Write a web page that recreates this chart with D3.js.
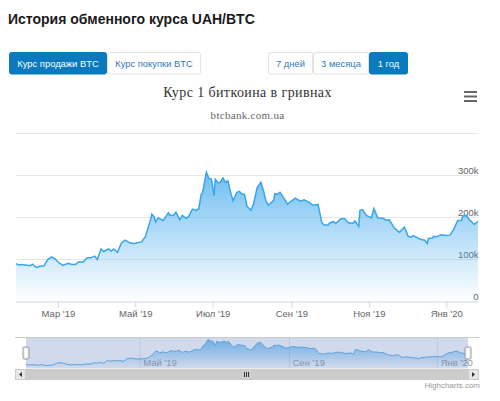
<!DOCTYPE html>
<html>
<head>
<meta charset="utf-8">
<script src="https://cdn.jsdelivr.net/npm/d3@7"></script>
<style>
  html, body { margin: 0; padding: 0; background: #fff; overflow: hidden; }
  svg { display: block; }
  text { font-family: "Liberation Sans", Arial, sans-serif; }
</style>
</head>
<body>
<svg width="500" height="401"></svg>
<script>
// days since 27 Jan 2019
var days = [0,2,4,7,11,13,16,19,22,25,28,31,33,37,41,44,47,49,53,56,59,62,64,67,69,73,75,77,80,83,86,90,93,99,102,106,107,109,110,112,116,120,
  121,124,126,129,131,134,136,139,142,144,146,147,150,152,154,156,157,159,161,163,165,167,169,171,174,176,178,180,182,185,187,190,193,195,197,199,203,204,206,208,210,214,220,224,227,231,234,238,241,243,246,247,
  250,252,256,259,262,266,267,270,271,273,276,280,282,285,289,292,294,298,302,306,309,311,313,318,322,324,325,328,329,331,335,339,342,345,348,351,352,355,357,361,364];
// UAH per BTC, thousands
var rates = [90,87,88,87,85,89,81,84,85,100,106,101,94,86,91,88,88,94,94,104,104,108,100,125,119,125,120,125,117,139,146,139,138,142,155,195,208,201,189,199,193,211,
  206,205,213,195,205,198,203,220,217,221,256,259,308,293,292,252,291,283,284,294,284,287,261,240,260,262,256,255,227,217,231,271,284,263,239,229,241,257,255,260,251,232,246,239,242,236,229,231,187,182,182,187,
  190,186,197,197,187,187,192,179,217,219,205,199,221,199,198,193,195,175,165,177,155,153,157,149,146,138,150,151,155,154,159,157,158,173,193,193,203,205,195,184,191];

var startDate = new Date(2019, 0, 27),
    endDate = new Date(2020, 0, 26);

var xTickDates = [new Date(2019, 2, 1), new Date(2019, 4, 1), new Date(2019, 6, 1), new Date(2019, 8, 1), new Date(2019, 10, 1), new Date(2020, 0, 1)];
var xTickLabels = ["Мар '19", "Май '19", "Июл '19", "Сен '19", "Ноя '19", "Янв '20"];
var navTickDates = [new Date(2019, 4, 1), new Date(2019, 8, 1), new Date(2020, 0, 1)];
var navTickLabels = ["Май '19", "Сен '19", "Янв '20"];
var yTicks = [0, 100, 200, 300, 400];
var yTickLabels = ["0", "100k", "200k", "300k", ""];

var modeButtons = ["Курс продажи BTC", "Курс покупки BTC"];
var rangeButtons = ["7 дней", "3 месяца", "1 год"];

var data = days.map(function(d, i) {
    return { date: d3.timeDay.offset(startDate, d), rate: rates[i] };
});

var svg = d3.select("svg");
var lineColor = "#38a5ec";

var defs = svg.append("defs");
var grad = defs.append("linearGradient")
    .attr("id", "areaFill")
    .attr("x1", 0).attr("y1", 0).attr("x2", 0).attr("y2", 1);
grad.append("stop").attr("offset", "0%").attr("stop-color", "#38a5ec").attr("stop-opacity", 0.72);
grad.append("stop").attr("offset", "100%").attr("stop-color", "#38a5ec").attr("stop-opacity", 0);

// Page heading
svg.append("text")
    .attr("x", 8).attr("y", 24)
    .attr("font-size", 14).attr("font-weight", "bold").attr("fill", "#1a1a1a")
    .text("История обменного курса UAH/BTC");

// Button groups
function buttonGroup(labels, edges, active) {
    var g = svg.append("g");
    labels.forEach(function(label, i) {
        g.append("rect")
            .attr("x", edges[i] + 0.5).attr("y", 52.5)
            .attr("width", edges[i + 1] - edges[i] - 1).attr("height", 21.5)
            .attr("rx", 2)
            .attr("fill", i === active ? "#0a79bd" : "#fff")
            .attr("stroke", i === active ? "#0a79bd" : "#e3e3e3");
        g.append("text")
            .attr("x", (edges[i] + edges[i + 1]) / 2).attr("y", 66.5)
            .attr("text-anchor", "middle").attr("font-size", 9.4)
            .attr("fill", i === active ? "#fff" : "#337ab7")
            .text(label);
    });
}
buttonGroup(modeButtons, [9, 107, 201], 0);
buttonGroup(rangeButtons, [268, 313, 369, 408], 2);

// Chart titles
svg.append("text")
    .attr("x", 247.5).attr("y", 97)
    .attr("text-anchor", "middle").attr("font-size", 14)
    .attr("letter-spacing", 0.4).attr("fill", "#333")
    .style("font-family", "'Liberation Serif', serif")
    .text("Курс 1 биткоина в гривнах");
svg.append("text")
    .attr("x", 247.5).attr("y", 119)
    .attr("text-anchor", "middle").attr("font-size", 11)
    .attr("letter-spacing", 0.3).attr("fill", "#666")
    .style("font-family", "'Liberation Serif', serif")
    .text("btcbank.com.ua");

// Context menu icon
[92, 96.5, 101].forEach(function(y) {
    svg.append("line")
        .attr("x1", 464).attr("x2", 477).attr("y1", y).attr("y2", y)
        .attr("stroke", "#666").attr("stroke-width", 2);
});

// Main plot
var xScale = d3.scaleTime().domain([startDate, endDate]).range([16, 478]);
var yScale = d3.scaleLinear().domain([0, 400]).range([301.5, 133.5]);

yTicks.forEach(function(t, i) {
    if (t > 0) {
        svg.append("line")
            .attr("x1", 16).attr("x2", 478)
            .attr("y1", yScale(t)).attr("y2", yScale(t))
            .attr("stroke", "#e6e6e6");
    }
    svg.append("text")
        .attr("x", 478.5).attr("y", yScale(t) - 1.5)
        .attr("text-anchor", "end").attr("font-size", 9.5).attr("fill", "#666")
        .text(yTickLabels[i]);
});

var area = d3.area()
    .x(function(d) { return xScale(d.date); })
    .y0(yScale(0))
    .y1(function(d) { return yScale(d.rate); });
var line = d3.line()
    .x(function(d) { return xScale(d.date); })
    .y(function(d) { return yScale(d.rate); });

svg.append("path").datum(data).attr("d", area).attr("fill", "url(#areaFill)");
svg.append("path").datum(data).attr("d", line)
    .attr("fill", "none").attr("stroke", lineColor).attr("stroke-width", 1.5);

// X axis
var xAxis = svg.append("g")
    .attr("transform", "translate(0,301.5)")
    .call(d3.axisBottom(xScale)
        .tickValues(xTickDates)
        .tickSize(6)
        .tickPadding(3)
        .tickFormat(function(d, i) { return xTickLabels[i]; }));
xAxis.select(".domain").attr("stroke", "#ccd6eb").attr("d", "M16,0.5H478");
xAxis.selectAll(".tick line").attr("stroke", "#ccd6eb");
xAxis.selectAll(".tick text")
    .attr("font-size", 9.5).attr("fill", "#666")
    .style("font-family", "'Liberation Sans', Arial, sans-serif");

// Navigator
var navX = d3.scaleTime().domain([startDate, endDate]).range([26, 468]);
var navY = d3.scaleLinear().domain([60, 320]).range([368, 338]);

var navArea = d3.area()
    .x(function(d) { return navX(d.date); })
    .y0(368)
    .y1(function(d) { return navY(d.rate); });
var navLine = d3.line()
    .x(function(d) { return navX(d.date); })
    .y(function(d) { return navY(d.rate); });

navTickDates.forEach(function(d, i) {
    svg.append("line")
        .attr("x1", navX(d)).attr("x2", navX(d)).attr("y1", 338).attr("y2", 368)
        .attr("stroke", "#e6e6e6");
    svg.append("text")
        .attr("x", navX(d) + 3).attr("y", 366)
        .attr("font-size", 9.5).attr("fill", "#999")
        .text(navTickLabels[i]);
});

svg.append("path").datum(data).attr("d", navArea).attr("fill", "url(#areaFill)");
svg.append("path").datum(data).attr("d", navLine)
    .attr("fill", "none").attr("stroke", "#5aaee8").attr("stroke-width", 1);

svg.append("rect")
    .attr("x", navX.range()[0]).attr("y", 338)
    .attr("width", navX.range()[1] - navX.range()[0]).attr("height", 30.5)
    .attr("fill", "#6685c2").attr("fill-opacity", 0.3);
svg.append("line")
    .attr("x1", 15).attr("x2", 479).attr("y1", 337.5).attr("y2", 337.5)
    .attr("stroke", "#ccc");

// Scrollbar
svg.append("rect").attr("x", 15).attr("y", 369).attr("width", 464).attr("height", 11).attr("fill", "#f2f2f2");
svg.append("rect").attr("x", 26).attr("y", 369).attr("width", 442).attr("height", 11).attr("fill", "#cccccc");
[[15.5, 1], [468.5, -1]].forEach(function(b) {
    var cx = b[0] + 5;
    svg.append("rect").attr("x", b[0]).attr("y", 369.5).attr("width", 10).attr("height", 10)
        .attr("fill", "#e6e6e6").attr("stroke", "#ccc");
    svg.append("path")
        .attr("d", d3.line()([[cx + b[1] * 1.5, 372], [cx + b[1] * 1.5, 377], [cx - b[1] * 1.5, 374.5]]) + "Z")
        .attr("fill", "#333");
});
[244.5, 246.5, 248.5].forEach(function(x) {
    svg.append("line").attr("x1", x).attr("x2", x).attr("y1", 372).attr("y2", 377)
        .attr("stroke", "#333");
});

// Navigator handles
navX.range().forEach(function(x) {
    svg.append("rect")
        .attr("x", x - 3).attr("y", 347).attr("width", 6).attr("height", 12).attr("rx", 1)
        .attr("fill", "#f2f2f2").attr("stroke", "#999");
    svg.append("rect")
        .attr("x", x - 1).attr("y", 349).attr("width", 2).attr("height", 8)
        .attr("fill", "#fff");
});

// Credits
svg.append("text")
    .attr("x", 480).attr("y", 388)
    .attr("text-anchor", "end").attr("font-size", 8).attr("fill", "#999")
    .text("Highcharts.com");
</script>
</body>
</html>
